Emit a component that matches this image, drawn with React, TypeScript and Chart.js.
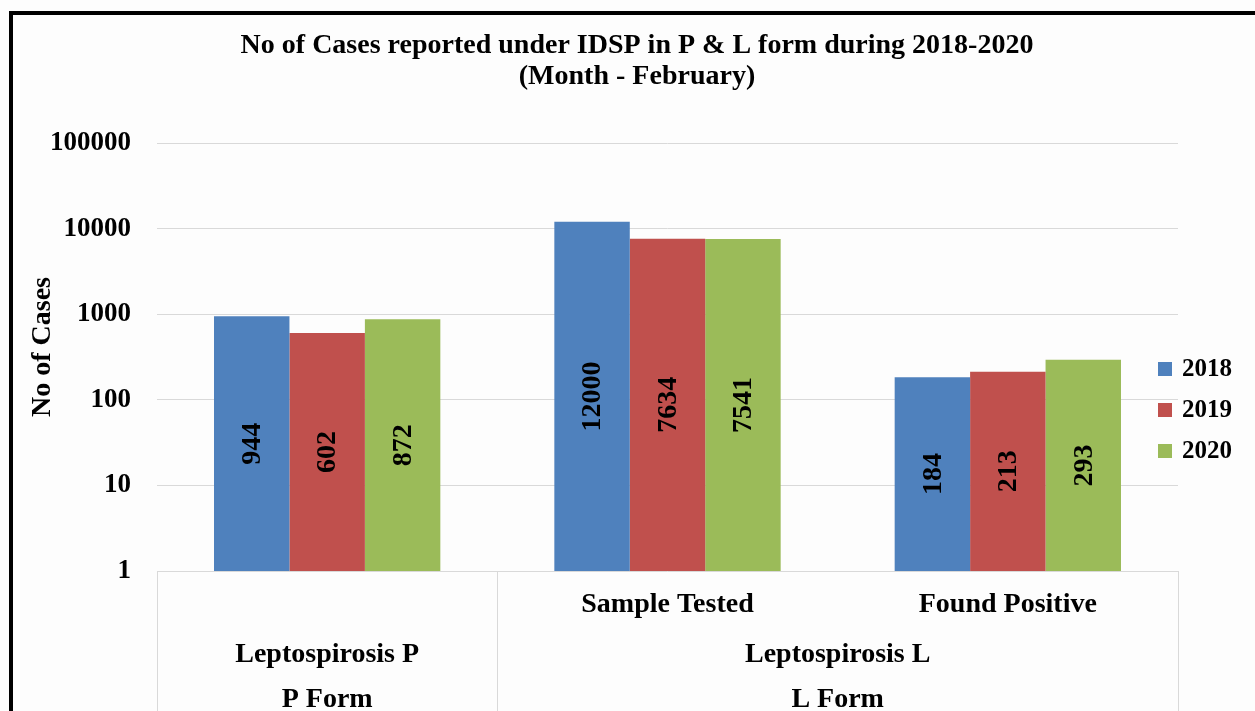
import React, { useEffect, useRef } from "react";
import { Chart, registerables } from "chart.js";

Chart.register(...registerables);

const categories = ["Leptospirosis P", "Sample Tested", "Found Positive"];
const subLabels = ["", "Sample Tested", "Found Positive"];
const groupLabels = ["Leptospirosis P", "Leptospirosis L"];
const formLabels = ["P Form", "L Form"];
const groupFirst = [0, 1];
const groupLast = [0, 2];
const years = ["2018", "2019", "2020"];
const values2018 = [944, 12000, 184];
const values2019 = [602, 7634, 213];
const values2020 = [872, 7541, 293];
const yTicks = [1, 10, 100, 1000, 10000, 100000];
const colors = ["#4F81BD", "#C0504D", "#9BBB59"];
const titleLines = [
  "No of Cases reported under IDSP in P & L form during 2018-2020",
  "(Month - February)",
];
const yTitle = "No of Cases";

const SERIF = '"Liberation Serif", "Times New Roman", serif';

export default function App() {
  const ref = useRef<HTMLCanvasElement | null>(null);

  useEffect(() => {
    const canvas = ref.current;
    if (!canvas) return;

    const decorPlugin = {
      id: "decor",
      beforeDraw(chart: any) {
        const ctx = chart.ctx;
        ctx.save();
        ctx.fillStyle = "#fdfdfd";
        ctx.fillRect(0, 0, chart.width, chart.height);
        ctx.restore();
      },
      afterDraw(chart: any) {
        const ctx = chart.ctx;
        const area = chart.chartArea;
        const xs = chart.scales.x;
        const n = categories.length;
        const catW = (area.right - area.left) / n;
        ctx.save();
        // frame
        ctx.fillStyle = "#000";
        ctx.fillRect(9, 11, chart.width - 9, 4);
        ctx.fillRect(9, 11, 4, chart.height - 11);
        // title
        ctx.fillStyle = "#000";
        ctx.textAlign = "center";
        ctx.textBaseline = "middle";
        ctx.font = "bold 28px " + SERIF;
        ctx.fillText(titleLines[0], 637, 46);
        ctx.fillText(titleLines[1], 637, 77);
        // y title
        ctx.save();
        ctx.translate(43, 347);
        ctx.rotate(-Math.PI / 2);
        ctx.font = "bold 28px " + SERIF;
        ctx.fillText(yTitle, 0, 0);
        ctx.restore();
        // category table lines
        ctx.strokeStyle = "#d9d9d9";
        ctx.lineWidth = 1;
        const bottomY = area.bottom;
        const lines = [area.left];
        groupLast.forEach((last) => lines.push(area.left + (last + 1) * catW));
        lines.forEach((x) => {
          const px = Math.round(x) + 0.5;
          ctx.beginPath();
          ctx.moveTo(px, bottomY);
          ctx.lineTo(px, chart.height);
          ctx.stroke();
        });
        // sub labels
        ctx.fillStyle = "#000";
        ctx.font = "bold 28px " + SERIF;
        subLabels.forEach((lab, i) => {
          if (!lab) return;
          ctx.fillText(lab, xs.getPixelForValue(i), 605);
        });
        groupLabels.forEach((lab, g) => {
          const cx = area.left + ((groupFirst[g] + groupLast[g] + 1) / 2) * catW;
          ctx.fillText(lab, cx, 655);
          ctx.fillText(formLabels[g], cx, 700);
        });
        // data labels
        chart.data.datasets.forEach((ds: any, di: number) => {
          const meta = chart.getDatasetMeta(di);
          meta.data.forEach((bar: any, i: number) => {
            const cy = (bar.y + bar.base) / 2;
            ctx.save();
            ctx.translate(bar.x, cy);
            ctx.rotate(-Math.PI / 2);
            ctx.fillText(String(ds.data[i]), 0, 1);
            ctx.restore();
          });
        });
        // legend
        ctx.textAlign = "left";
        ctx.font = "bold 25px " + SERIF;
        years.forEach((y, i) => {
          const cy = 369 + i * 41;
          ctx.fillStyle = colors[i];
          ctx.fillRect(1158, cy - 7, 14, 14);
          ctx.fillStyle = "#000";
          ctx.fillText(y, 1182, cy + 1);
        });
        ctx.restore();
      },
    };

    const chart = new Chart(canvas, {
      type: "bar",
      data: {
        labels: categories,
        datasets: [
          { label: years[0], data: values2018, backgroundColor: colors[0] },
          { label: years[1], data: values2019, backgroundColor: colors[1] },
          { label: years[2], data: values2020, backgroundColor: colors[2] },
        ],
      },
      options: {
        responsive: false,
        animation: false,
        layout: { padding: { top: 143, bottom: 140, right: 77, left: 0 } },
        datasets: {
          bar: { categoryPercentage: 0.665, barPercentage: 1.0 },
        },
        plugins: {
          legend: { display: false },
          title: { display: false },
          tooltip: { enabled: false },
        },
        scales: {
          x: {
            display: false,
            offset: true,
          },
          y: {
            type: "logarithmic",
            min: 1,
            max: 100000,
            afterBuildTicks: (scale: any) => {
              scale.ticks = yTicks.map((v) => ({ value: v }));
            },
            afterFit: (scale: any) => {
              scale.width = 157;
            },
            border: { display: false },
            grid: { color: "#d9d9d9", drawTicks: false, lineWidth: 1 },
            ticks: {
              padding: 26,
              color: "#000",
              font: { family: SERIF, size: 27, weight: "bold" },
              callback: (v: any) => String(v),
            },
          },
        },
      },
      plugins: [decorPlugin],
    });

    return () => chart.destroy();
  }, []);

  return (
    <div style={{ position: "absolute", left: 0, top: 0, width: 1255, height: 711 }}>
      <canvas ref={ref} width={1255} height={711} style={{ display: "block" }} />
    </div>
  );
}
